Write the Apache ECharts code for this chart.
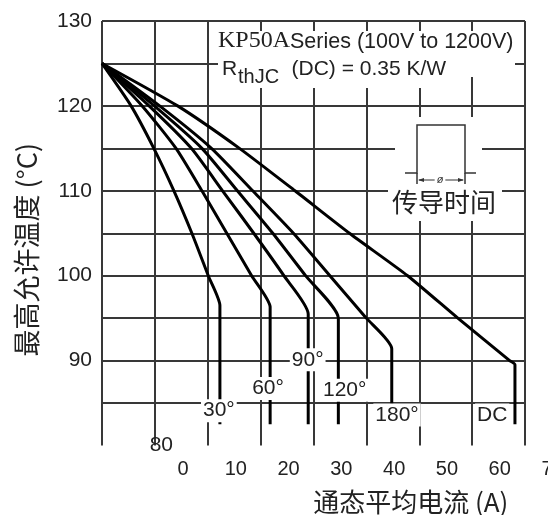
<!DOCTYPE html>
<html>
<head>
<meta charset="utf-8">
<script src="https://cdn.jsdelivr.net/npm/echarts@6/dist/echarts.min.js"></script>
<style>
html,body{margin:0;padding:0;background:#fff;}
#chart{width:548px;height:515px;}
</style>
</head>
<body>
<div id="chart"></div>
<script>
// ---- data ----
const curveNames = ['30°', '60°', '90°', '120°', '180°', 'DC'];
// [average on-state current (A), max allowed case temperature (°C)]
const curve30  = [[0,125],[5.5,120],[9.8,115],[13.6,110],[17.0,105],[20.1,100],[22.3,96.5],[22.3,82.5]];
const curve60  = [[0,125],[7.6,120],[14.0,115],[18.9,110],[23.6,105],[28.3,100],[31.8,96.3],[31.8,82.5]];
const curve90  = [[0,125],[8.9,120],[16.9,115],[22.8,110],[28.7,105],[34.4,100],[39.0,95.5],[39.0,82.5]];
const curve120 = [[0,125],[9.9,120],[18.9,115],[25.6,110],[32.3,105],[38.5,100],[44.7,95.0],[44.7,82.5]];
const curve180 = [[0,125],[10.9,120],[20.7,115],[28.5,110],[36.2,105],[43.1,100],[50.0,95],[54.8,91.4],[54.8,82.5]];
const curveDC  = [[0,125],[14.3,120],[26.0,115],[36.5,110],[46.8,105],[57.8,100],[67.3,95],[77.1,90],[78.1,89.5],[78.1,82.5]];
const xTickLabels = [0, 10, 20, 30, 40, 50, 60, 70];
const yTickLabels = [90, 100, 110, 120, 130];

const curves = [curve30, curve60, curve90, curve120, curve180, curveDC];
// label anchor points (data space) for the curve labels
const labelPos = [[22.1,84.1],[31.4,86.7],[38.9,90.1],[45.9,86.5],[55.8,83.6],[73.8,83.6]];

const TXT = '#222';
const GRID = '#383838';
const SANS = 'Liberation Sans';

const chart = echarts.init(document.getElementById('chart'), null, {renderer: 'canvas'});

const series = curves.map((c, i) => ({
  type: 'line',
  name: curveNames[i],
  xAxisIndex: 0, yAxisIndex: 0,
  data: c,
  symbol: 'none',
  smooth: 0.2,
  lineStyle: {color: '#000', width: 3},
  z: 2,
  markPoint: {
    symbol: 'rect', symbolSize: 0, z: 5,
    label: {show: true, position: 'inside', formatter: curveNames[i],
      fontFamily: SANS, fontSize: 21, color: TXT, backgroundColor: '#fff', padding: [1, 2]},
    data: [{coord: labelPos[i]}]
  }
}));

const option = {
  animation: false,
  backgroundColor: '#fff',
  grid: [
    {left: 102, right: 23, top: 21, bottom: 69.5, outerBoundsMode: 'none', containLabel: false},
    {left: 183, width: 369.5, top: 430, bottom: 69.5, outerBoundsMode: 'none', containLabel: false}
  ],
  xAxis: [
    {type: 'value', gridIndex: 0, min: 0, max: 80, interval: 10,
     axisLine: {show: false}, axisTick: {show: false}, axisLabel: {show: false},
     splitLine: {show: true, lineStyle: {color: GRID, width: 2}}},
    {type: 'value', gridIndex: 1, min: 0, max: 70, interval: 10,
     axisLine: {show: false}, axisTick: {show: false}, splitLine: {show: false},
     axisLabel: {show: true, margin: 14, fontFamily: SANS, fontSize: 20, lineHeight: 20, color: TXT,
       hideOverlap: false,
       formatter: v => xTickLabels.includes(v) ? String(v) : ''},
     name: '通态平均电流 (A)', nameLocation: 'middle', nameGap: 44,
     nameTextStyle: {fontFamily: 'Noto Sans CJK SC', fontSize: 26, lineHeight: 25, color: TXT, padding: [0, 0, 0, 86]}}
  ],
  yAxis: [
    {type: 'value', gridIndex: 0, min: 80, max: 130, interval: 5,
     axisLine: {show: false}, axisTick: {show: false},
     axisLabel: {margin: 10, fontFamily: SANS, fontSize: 21, color: TXT,
       formatter: v => yTickLabels.includes(v) ? String(v) : ''},
     splitLine: {show: true, showMinLine: false, lineStyle: {color: GRID, width: 2}},
     name: '最高允许温度 (°C)', nameLocation: 'middle', nameGap: 62,
     nameTextStyle: {fontFamily: 'Noto Sans CJK SC', fontSize: 27, lineHeight: 27, color: TXT, padding: [0, 33, 0, 0]}},
    {type: 'value', gridIndex: 1, min: 80, max: 90, interval: 10,
     axisLine: {show: false}, axisTick: {show: false}, splitLine: {show: false},
     axisLabel: {margin: 10, fontFamily: SANS, fontSize: 21, color: TXT,
       formatter: v => v === 80 ? '80' : ''}}
  ],
  title: [
    {text: 'KP50A', left: 218, top: 28.5, padding: 0, textStyle: {fontFamily: 'Liberation Serif', fontSize: 24, lineHeight: 24, fontWeight: 'normal', color: TXT}},
    {text: 'Series (100V to 1200V)', left: 290, top: 32, padding: 0, textStyle: {fontFamily: SANS, fontSize: 21.5, lineHeight: 21, fontWeight: 'normal', color: TXT}},
    {text: 'R', left: 222, top: 58.5, padding: 0, textStyle: {fontFamily: SANS, fontSize: 21, lineHeight: 21, fontWeight: 'normal', color: TXT}},
    {text: 'thJC', left: 238, top: 67, padding: 0, textStyle: {fontFamily: SANS, fontSize: 20, lineHeight: 20, fontWeight: 'normal', color: TXT}},
    {text: '(DC) = 0.35 K/W', left: 291.5, top: 58.5, padding: 0, textStyle: {fontFamily: SANS, fontSize: 21, lineHeight: 21, fontWeight: 'normal', color: TXT}},
    {text: '传导时间', left: 392, top: 189.5, padding: 0, textStyle: {fontFamily: 'Noto Sans CJK SC', fontSize: 26, lineHeight: 26, fontWeight: 'normal', color: TXT}}
  ],
  graphic: [
    {type: 'rect', z: 3, shape: {x: 218, y: 31, width: 297, height: 46}, style: {fill: '#fff'}},
    {type: 'rect', z: 3, shape: {x: 220, y: 56, width: 232, height: 32}, style: {fill: '#fff'}},
    {type: 'rect', z: 3, shape: {x: 395, y: 117, width: 87, height: 70}, style: {fill: '#fff'}},
    {type: 'rect', z: 3, shape: {x: 388, y: 185, width: 114, height: 36}, style: {fill: '#fff'}},
    {type: 'polyline', z: 4, shape: {points: [[405,173],[417,173],[417,125],[465,125],[465,173],[476,173]]}, style: {stroke: '#333', lineWidth: 1.5, fill: null}},
    {type: 'line', z: 4, shape: {x1: 417, y1: 173, x2: 417, y2: 184}, style: {stroke: '#333', lineWidth: 1.5}},
    {type: 'line', z: 4, shape: {x1: 465, y1: 173, x2: 465, y2: 184}, style: {stroke: '#333', lineWidth: 1.5}},
    {type: 'line', z: 4, shape: {x1: 419, y1: 180, x2: 463, y2: 180}, style: {stroke: '#333', lineWidth: 1}},
    {type: 'polygon', z: 4, shape: {points: [[418,180],[424,178],[424,182]]}, style: {fill: '#333'}},
    {type: 'polygon', z: 4, shape: {points: [[464,180],[458,178],[458,182]]}, style: {fill: '#333'}},
    {type: 'text', z: 5, x: 440, y: 180, style: {text: 'ø', font: 'italic 11px Liberation Sans', fill: '#333', align: 'center', verticalAlign: 'middle', backgroundColor: '#fff', padding: [0, 2]}}
  ],
  series: series
};
chart.setOption(option);
</script>
</body>
</html>
